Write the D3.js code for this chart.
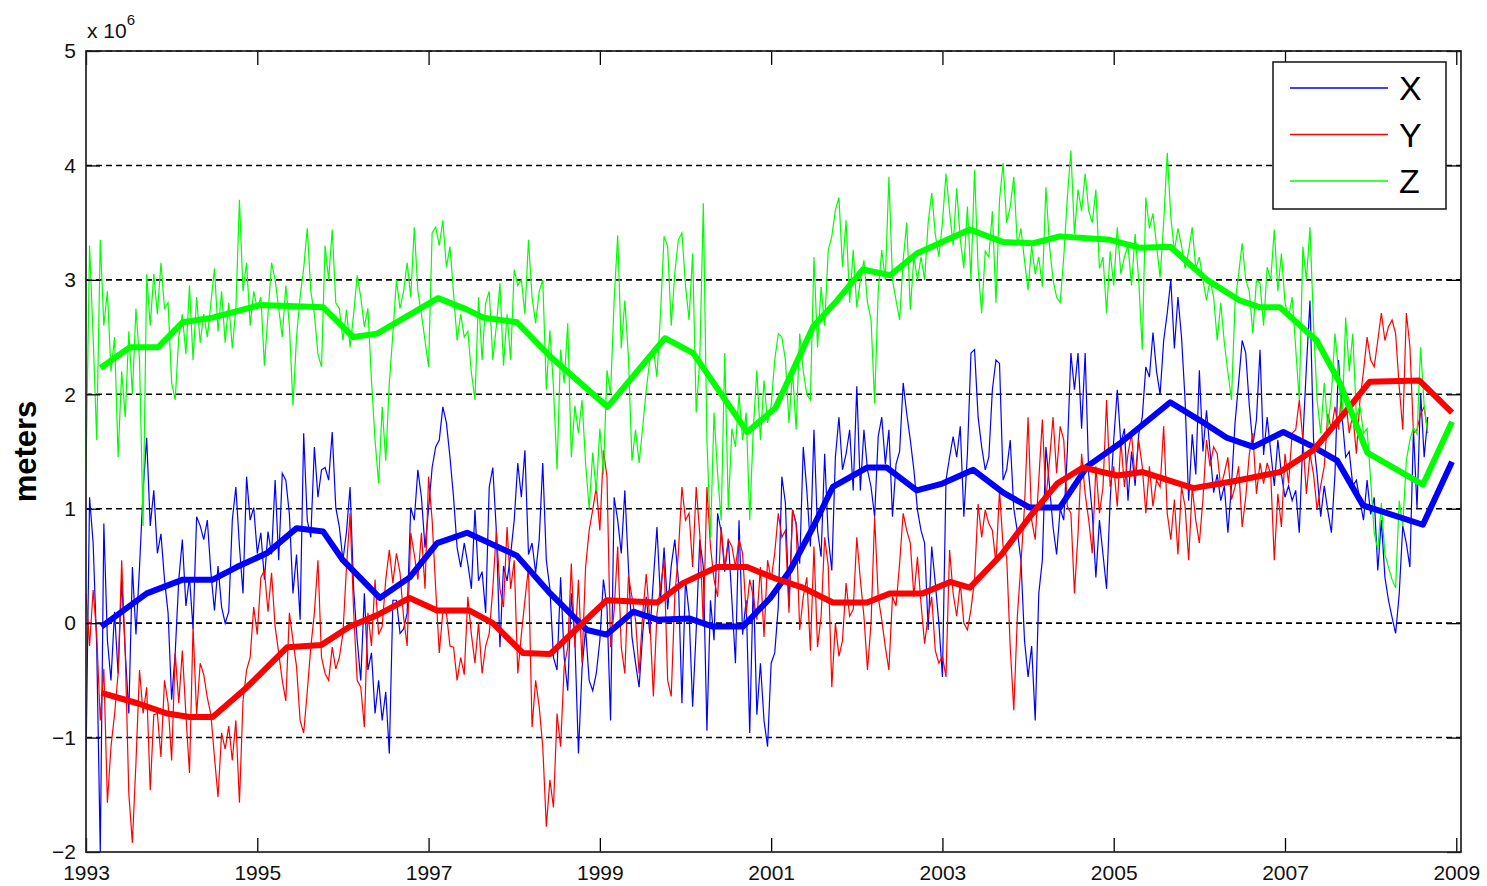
<!DOCTYPE html>
<html><head><meta charset="utf-8">
<script src="https://cdn.jsdelivr.net/npm/d3@7"></script>
<style>body{margin:0;background:#fff} svg{display:block}</style>
</head><body>
<svg id="chart" width="1487" height="886"></svg>
<script>
// ---- data ----
const startYear = 1993;
const stepYears = 1 / 24;           // semi-monthly samples
const seriesNames = ["X", "Y", "Z"];
const xTicks = [1993, 1995, 1997, 1999, 2001, 2003, 2005, 2007, 2009];
const yTicks = [-2, -1, 0, 1, 2, 3, 4, 5];
const exponentLabel = "6";
const yLabel = "meters";

const xRaw = [
-1.2,1.1,0.7,-0.2,-2.0,0.87,-0.15,-0.5,0.1,-0.44,
0.38,-0.25,-0.79,0.49,-0.1,0.49,1.16,1.62,0.85,1.16,
0.61,0.78,0.38,0.09,-0.67,-0.26,0.38,0.73,0.15,0.4,
-0.05,0.93,0.85,0.73,0.9,0.44,0.11,0.5,0.14,0.0,
0.1,0.9,1.19,0.67,0.26,1.28,0.9,1.01,0.61,0.79,
0.38,0.8,0.6,1.25,0.55,1.31,1.25,0.95,0.26,0.6,
0.03,1.66,0.9,0.75,1.54,1.1,1.34,1.36,1.25,1.67,
1.01,0.84,0.55,0.8,1.19,0.3,-0.15,-0.5,0.26,-0.41,
-0.26,-0.79,-0.5,-0.85,-0.6,-1.14,0.2,0.2,-0.09,-0.05,
0.09,1.01,0.9,1.34,1.1,0.66,1.0,1.36,1.54,1.6,
1.89,1.75,1.45,1.1,0.66,0.49,0.7,0.52,0.3,0.99,
0.37,0.45,0.09,1.19,1.36,0.8,-0.21,0.5,0.37,0.6,
0.9,1.4,1.1,1.51,0.6,0.7,0.44,0.73,1.4,0.55,
0.3,-0.3,-0.41,0.4,-0.3,-0.59,0.26,-0.15,-1.14,-0.4,
-0.05,-0.5,-0.59,-0.44,-0.15,0.38,0.14,-0.85,1.1,0.9,
0.61,1.16,0.49,-0.12,-0.35,-0.56,-0.09,0.23,-0.09,0.38,
0.84,0.2,0.66,0.12,0.5,0.73,0.38,-0.7,0.38,0.09,
-0.73,-0.06,0.73,0.49,-0.94,0.2,-0.15,0.96,0.8,0.45,
0.73,0.2,-0.35,0.9,-0.1,0.2,-0.96,0.38,-0.8,-0.35,
-0.85,-1.08,-0.35,-0.26,0.14,1.28,1.05,0.14,0.99,0.87,
0.52,1.54,1.16,0.67,1.69,0.81,0.58,1.48,0.75,0.46,
1.45,1.8,1.34,1.48,1.69,1.16,2.07,1.16,1.69,1.34,
1.19,0.93,1.63,1.8,1.39,1.69,0.93,1.39,1.5,2.1,
1.83,1.6,1.34,0.99,0.81,0.7,-0.06,0.67,0.35,0.0,
-0.47,1.25,1.45,1.63,1.45,1.72,0.93,1.48,2.36,2.39,
1.8,1.54,1.34,1.45,2.04,2.3,2.27,1.25,1.34,1.6,
1.0,0.8,0.55,-0.15,-0.47,-0.2,-0.85,0.26,0.55,1.54,
1.2,0.84,0.6,1.0,0.9,1.5,2.36,2.04,2.36,1.7,
2.36,1.3,0.96,0.4,0.9,0.6,0.3,1.07,1.6,2.04,
1.57,1.7,1.07,1.5,1.2,1.65,1.8,2.24,2.15,2.54,
2.2,2.0,2.47,2.71,3.0,2.4,2.85,2.5,1.95,1.07,
1.65,1.3,2.21,1.5,1.86,1.5,1.14,1.3,1.07,1.2,
0.79,1.2,1.75,2.1,2.47,2.36,1.9,1.55,1.78,2.39,
1.47,1.8,1.5,1.2,1.6,1.3,1.1,1.2,1.07,1.16,
0.79,1.6,2.24,2.82,1.6,1.3,0.93,1.2,0.98,0.79,
1.3,2.3,1.8,1.45,1.5,1.2,1.25,1.07,0.9,1.25,
0.95,1.1,0.46,0.9,0.4,0.2,0.05,-0.09,0.25,0.85,
0.7,0.49,1.69,1.0,2.01,1.45,1.8
];

const yRaw = [
0.26,-0.2,0.29,-0.1,-0.85,-0.4,-1.57,-1.08,-0.8,-0.44,
0.55,-0.26,-1.49,-1.92,-1.22,-0.41,-0.79,-0.56,-1.46,-0.8,
-0.79,-1.17,-0.5,-0.7,-1.2,-0.26,-0.7,-0.24,-0.8,-1.31,
-0.03,-0.8,-0.35,-0.45,-0.65,-0.8,-1.17,-1.52,-0.96,-1.1,
-0.9,-1.2,-0.85,-1.57,-0.68,-0.41,-0.3,0.14,-0.1,0.4,
0.46,0.1,0.44,-0.03,-0.26,-0.5,-0.68,0.09,-0.15,-0.38,
-0.85,-0.96,-0.6,-0.21,0.09,0.55,-0.3,-0.44,-0.5,-0.21,
-0.4,-0.3,-0.09,0.49,0.96,0.1,-0.5,-0.56,-0.91,0.09,
-0.2,0.38,-0.1,-0.03,0.38,0.64,0.35,0.61,0.44,0.05,
-0.2,0.79,0.6,0.38,0.79,0.3,1.28,0.9,0.3,-0.26,
0.1,0.09,-0.2,-0.21,-0.5,-0.3,-0.45,0.23,-0.1,-0.35,
0.0,-0.44,-0.2,-0.09,0.3,0.81,0.3,0.14,0.84,0.3,
0.55,-0.44,-0.1,0.2,0.49,-0.91,-0.5,-0.73,-1.08,-1.78,
-1.37,-1.61,-0.79,-1.08,-0.38,-0.21,0.52,-0.21,0.38,-0.35,
0.49,0.81,0.99,1.19,0.81,1.51,1.28,-0.21,0.11,0.67,
-0.21,-0.44,0.41,0.23,0.03,-0.44,0.08,0.43,0.03,-0.64,
0.08,0.32,0.55,-0.5,-0.64,0.23,0.61,1.19,0.9,0.96,
0.49,1.19,0.78,-0.03,1.19,0.67,0.38,0.23,0.84,0.49,
0.73,0.67,0.49,0.73,0.61,0.08,0.38,0.23,0.03,0.49,
-0.12,0.55,0.38,0.61,0.96,0.75,0.81,0.09,0.99,0.87,
-0.06,0.23,0.4,-0.24,0.67,-0.21,0.06,0.75,0.5,-0.56,
0.0,-0.29,-0.15,0.35,0.06,0.12,0.75,0.38,0.06,-0.41,
0.0,0.93,0.23,0.03,-0.21,-0.41,0.23,0.15,0.52,0.96,
0.81,0.7,0.23,0.58,0.17,-0.18,0.06,0.23,-0.24,-0.35,
-0.29,-0.47,0.64,0.26,0.06,0.35,0.0,-0.06,0.12,0.38,
1.04,0.75,0.99,0.87,0.81,0.52,1.16,0.67,0.58,-0.21,
-0.76,0.06,0.52,1.02,1.8,0.9,0.73,1.25,1.78,1.08,
1.42,1.8,1.31,1.72,1.6,1.02,0.96,0.26,0.78,1.48,
1.13,0.9,0.61,1.37,0.96,1.19,1.95,1.19,1.37,1.02,
1.6,1.19,1.48,1.66,1.25,1.6,1.37,0.96,1.37,1.02,
1.25,1.19,1.72,0.96,0.73,1.08,0.6,1.19,1.02,0.55,
1.19,0.9,0.7,1.08,1.6,1.37,1.54,1.48,1.19,1.31,
1.45,1.08,1.19,1.37,0.84,1.1,1.48,1.66,1.13,1.4,
1.22,1.4,1.3,0.55,1.13,0.84,1.48,1.22,1.66,1.69,
1.95,1.6,1.13,1.48,1.3,0.99,1.2,1.37,1.83,1.69,
1.89,1.69,2.07,1.95,1.66,1.83,1.48,1.95,2.2,2.5,
2.3,2.24,2.47,2.71,2.47,2.59,2.65,2.53,2.07,1.69,
2.71,2.42,1.66,1.69,1.83,1.89,1.66
];

const zRaw = [
1.3,3.3,2.5,1.6,3.35,2.6,2.9,2.2,2.5,1.45,
2.2,1.8,2.55,2.0,2.75,2.3,0.85,3.05,2.6,3.05,
2.7,3.15,2.75,2.8,2.1,1.95,2.5,2.7,2.35,2.95,
2.3,2.85,2.45,2.7,2.5,2.8,3.1,2.55,2.9,2.45,
2.8,2.4,2.75,3.7,2.9,3.15,2.6,2.9,2.75,2.85,
2.25,2.7,3.15,3.0,2.75,2.5,2.95,2.6,1.9,2.5,
2.85,3.1,3.45,2.9,2.7,2.35,2.24,3.3,3.0,3.44,
2.8,2.75,2.47,2.74,2.41,2.7,3.04,2.85,2.59,2.75,
2.12,1.6,1.22,1.89,1.42,2.1,2.53,3.0,2.75,2.9,
3.15,2.85,3.46,2.9,2.7,2.47,2.24,3.41,3.46,3.3,
3.52,3.11,3.29,2.88,2.47,2.7,2.5,2.55,2.19,1.95,
2.85,2.3,2.8,2.9,2.3,2.6,2.97,2.25,2.7,2.3,
3.09,2.95,3.0,2.7,3.35,2.85,2.62,2.9,3.0,2.04,
2.56,2.06,1.34,2.39,2.1,2.62,1.45,1.9,1.66,1.95,
1.4,1.0,1.49,1.15,1.7,1.3,2.21,2.0,2.82,3.39,
2.4,2.82,2.33,1.42,1.69,1.4,1.71,2.04,2.3,2.39,
2.15,2.71,3.38,3.29,2.6,3.06,3.35,3.41,2.95,2.65,
3.23,1.84,2.3,3.67,1.6,0.75,1.84,1.3,0.9,2.36,
1.0,1.7,1.54,2.0,1.6,1.84,0.9,1.7,2.21,1.6,
2.12,1.75,1.9,2.3,2.53,2.5,2.3,1.75,2.2,1.69,
2.53,2.2,2.0,1.95,3.2,2.41,2.94,2.6,3.26,3.38,
3.61,3.72,3.11,3.52,2.8,3.26,2.76,3.0,3.17,2.8,
2.65,1.92,2.9,3.26,3.0,3.9,3.0,2.82,2.65,3.17,
3.5,2.74,3.2,3.0,3.2,3.0,3.5,3.76,3.4,3.2,
3.5,3.93,3.6,3.3,3.8,3.35,3.1,3.64,3.0,3.96,
3.1,2.71,3.25,3.2,3.6,2.8,3.7,4.02,3.5,3.64,
3.9,3.3,3.45,3.17,2.91,3.3,3.05,3.2,2.94,3.81,
3.3,3.0,2.85,2.8,3.2,3.72,4.13,3.4,3.79,3.6,
3.93,3.6,3.5,3.79,3.1,3.2,2.71,3.25,2.95,3.46,
3.05,3.2,3.3,2.95,3.4,3.0,2.39,3.72,3.45,3.58,
3.3,3.02,3.5,4.11,3.55,3.25,3.45,3.3,3.1,3.25,
3.46,3.1,3.2,3.0,2.82,3.0,2.85,2.47,2.8,2.45,
2.19,1.95,2.8,3.05,3.32,3.0,2.9,2.53,3.0,2.97,
2.6,3.11,3.0,3.44,2.9,3.23,2.8,2.67,2.85,2.4,
1.95,3.29,3.0,3.46,2.6,1.95,1.66,2.1,1.71,2.0,
2.53,2.2,1.77,2.67,2.2,2.53,1.8,1.9,1.66,1.7,
1.25,0.79,0.64,1.05,0.6,0.49,0.38,0.31,1.07,0.85,
1.42,1.6,1.71,1.65,2.41,1.9,1.66
];

// smoothed trends: [year, value]
const xTrend = [[1993.18,-0.03],[1993.71,0.26],[1994.13,0.38],[1994.48,0.38],[1994.76,0.49],[1995.11,0.61],[1995.46,0.83],[1995.77,0.80],[1996.0,0.55],[1996.43,0.22],[1996.78,0.40],[1997.1,0.70],[1997.45,0.79],[1998.03,0.59],[1998.42,0.26],[1998.85,-0.06],[1999.08,-0.10],[1999.39,0.10],[1999.67,0.03],[2000.05,0.04],[2000.32,-0.03],[2000.67,-0.03],[2000.99,0.22],[2001.22,0.46],[2001.49,0.84],[2001.72,1.19],[2002.12,1.36],[2002.35,1.36],[2002.7,1.16],[2003.0,1.22],[2003.36,1.34],[2003.71,1.14],[2004.02,1.01],[2004.37,1.01],[2004.69,1.37],[2005.07,1.57],[2005.66,1.93],[2006.01,1.77],[2006.32,1.62],[2006.63,1.54],[2006.98,1.67],[2007.33,1.54],[2007.61,1.42],[2007.91,1.03],[2008.61,0.86],[2008.95,1.41]];
const yTrend = [[1993.18,-0.61],[1993.6,-0.70],[1993.95,-0.79],[1994.21,-0.82],[1994.48,-0.82],[1994.88,-0.56],[1995.35,-0.21],[1995.75,-0.19],[1996.08,-0.03],[1996.4,0.07],[1996.78,0.22],[1997.1,0.11],[1997.48,0.11],[1997.75,0.0],[1998.1,-0.26],[1998.42,-0.27],[1999.08,0.2],[1999.67,0.18],[1999.97,0.35],[2000.37,0.49],[2000.72,0.49],[2001.05,0.39],[2001.37,0.31],[2001.72,0.18],[2002.12,0.18],[2002.39,0.26],[2002.77,0.26],[2003.09,0.36],[2003.32,0.31],[2003.69,0.6],[2004.02,0.93],[2004.34,1.22],[2004.64,1.36],[2005.04,1.29],[2005.34,1.32],[2005.93,1.18],[2006.4,1.24],[2006.94,1.32],[2007.33,1.51],[2007.72,1.86],[2007.99,2.11],[2008.57,2.12],[2008.95,1.84]];
const zTrend = [[1993.17,2.23],[1993.51,2.41],[1993.84,2.41],[1994.13,2.63],[1994.48,2.67],[1995.03,2.78],[1995.77,2.76],[1996.12,2.50],[1996.4,2.53],[1997.11,2.84],[1997.45,2.74],[1997.64,2.67],[1998.03,2.63],[1998.42,2.33],[1999.09,1.89],[1999.76,2.49],[2000.09,2.36],[2000.72,1.67],[2001.05,1.88],[2001.49,2.59],[2001.77,2.82],[2002.07,3.09],[2002.39,3.04],[2002.70,3.23],[2003.32,3.44],[2003.71,3.33],[2004.06,3.32],[2004.37,3.38],[2004.96,3.35],[2005.31,3.28],[2005.66,3.29],[2006.09,3.0],[2006.47,2.82],[2006.71,2.76],[2006.94,2.76],[2007.37,2.47],[2007.64,2.10],[2007.96,1.49],[2008.61,1.21],[2008.95,1.76]];

// ---- styles / layout ----
const colors = {X: "#0000ff", Y: "#ff0000", Z: "#00ff00"};
const font = "'Liberation Sans', Arial, Helvetica, sans-serif";
const L = 86, R = 1461, T = 51, B = 852;

const svg = d3.select("#chart");
const x = d3.scaleLinear().domain([1993, 2009.055]).range([L, R]);
const y = d3.scaleLinear().domain([-2, 5]).range([B, T]);

svg.append("defs").append("clipPath").attr("id", "plotclip")
  .append("rect").attr("x", L).attr("y", T).attr("width", R - L).attr("height", B - T);

// grid
svg.append("g").selectAll("line").data(yTicks.filter(v => v > -2))
  .join("line")
  .attr("x1", L).attr("x2", R)
  .attr("y1", d => y(d)).attr("y2", d => y(d))
  .attr("stroke", "#000").attr("stroke-width", 1.6)
  .attr("stroke-dasharray", "6,4");

const plotG = svg.append("g").attr("clip-path", "url(#plotclip)");
const rawLine = d3.line().x((d, i) => x(startYear + i * stepYears)).y(d => y(d));
const trendLine = d3.line().x(d => x(d[0])).y(d => y(d[1]));

[["X", xRaw], ["Y", yRaw], ["Z", zRaw]].forEach(([k, arr]) => {
  plotG.append("path").datum(arr).attr("d", rawLine)
    .attr("fill", "none").attr("stroke", colors[k]).attr("stroke-width", 1.2)
    .attr("stroke-linejoin", "miter");
});
[["X", xTrend], ["Y", yTrend], ["Z", zTrend]].forEach(([k, arr]) => {
  plotG.append("path").datum(arr).attr("d", trendLine)
    .attr("fill", "none").attr("stroke", colors[k]).attr("stroke-width", 6)
    .attr("stroke-linejoin", "round").attr("stroke-linecap", "butt");
});

// axes (inward ticks)
function styleAxis(g) {
  g.select(".domain").remove();
  g.selectAll(".tick line").attr("stroke", "#000").attr("stroke-width", 1.3);
  g.selectAll("text").attr("font-family", font).attr("font-size", 21).attr("fill", "#111");
}
svg.append("g").attr("transform", `translate(0,${B})`)
  .call(d3.axisBottom(x).tickValues(xTicks).tickFormat(d3.format("d")).tickSizeInner(-14).tickSizeOuter(0).tickPadding(13))
  .call(styleAxis);
svg.append("g").attr("transform", `translate(0,${T})`)
  .call(d3.axisTop(x).tickValues(xTicks).tickFormat("").tickSizeInner(-14).tickSizeOuter(0))
  .call(styleAxis);
svg.append("g").attr("transform", `translate(${L},0)`)
  .call(d3.axisLeft(y).tickValues(yTicks).tickFormat(d3.format("d")).tickSizeInner(-14).tickSizeOuter(0).tickPadding(10))
  .call(styleAxis);
svg.append("g").attr("transform", `translate(${R},0)`)
  .call(d3.axisRight(y).tickValues(yTicks).tickFormat("").tickSizeInner(-14).tickSizeOuter(0))
  .call(styleAxis);

// frame
svg.append("rect").attr("x", L).attr("y", T).attr("width", R - L).attr("height", B - T)
  .attr("fill", "none").attr("stroke", "#222").attr("stroke-width", 1.7);

// exponent label
const ex = svg.append("text").attr("x", 87).attr("y", 38)
  .attr("font-family", font).attr("font-size", 21).attr("fill", "#111");
ex.append("tspan").text("x 10");
ex.append("tspan").attr("dy", -13).attr("font-size", 15).text(exponentLabel);

// y label
svg.append("text").attr("transform", `translate(36,${(T + B) / 2}) rotate(-90)`)
  .attr("text-anchor", "middle").attr("font-family", font).attr("font-weight", "bold")
  .attr("font-size", 31).attr("fill", "#000").text(yLabel);

// legend
const lg = svg.append("g");
lg.append("rect").attr("x", 1273).attr("y", 62).attr("width", 173).attr("height", 147)
  .attr("fill", "#fff").attr("stroke", "#111").attr("stroke-width", 1.5);
seriesNames.forEach((n, i) => {
  const ly = 88 + i * 46.5;
  lg.append("line").attr("x1", 1290).attr("x2", 1388).attr("y1", ly).attr("y2", ly)
    .attr("stroke", colors[n]).attr("stroke-width", 1.6);
  lg.append("text").attr("x", 1399).attr("y", ly).attr("dy", "0.36em")
    .attr("font-family", font).attr("font-size", 34).attr("fill", "#000").text(n);
});
</script>
</body></html>
